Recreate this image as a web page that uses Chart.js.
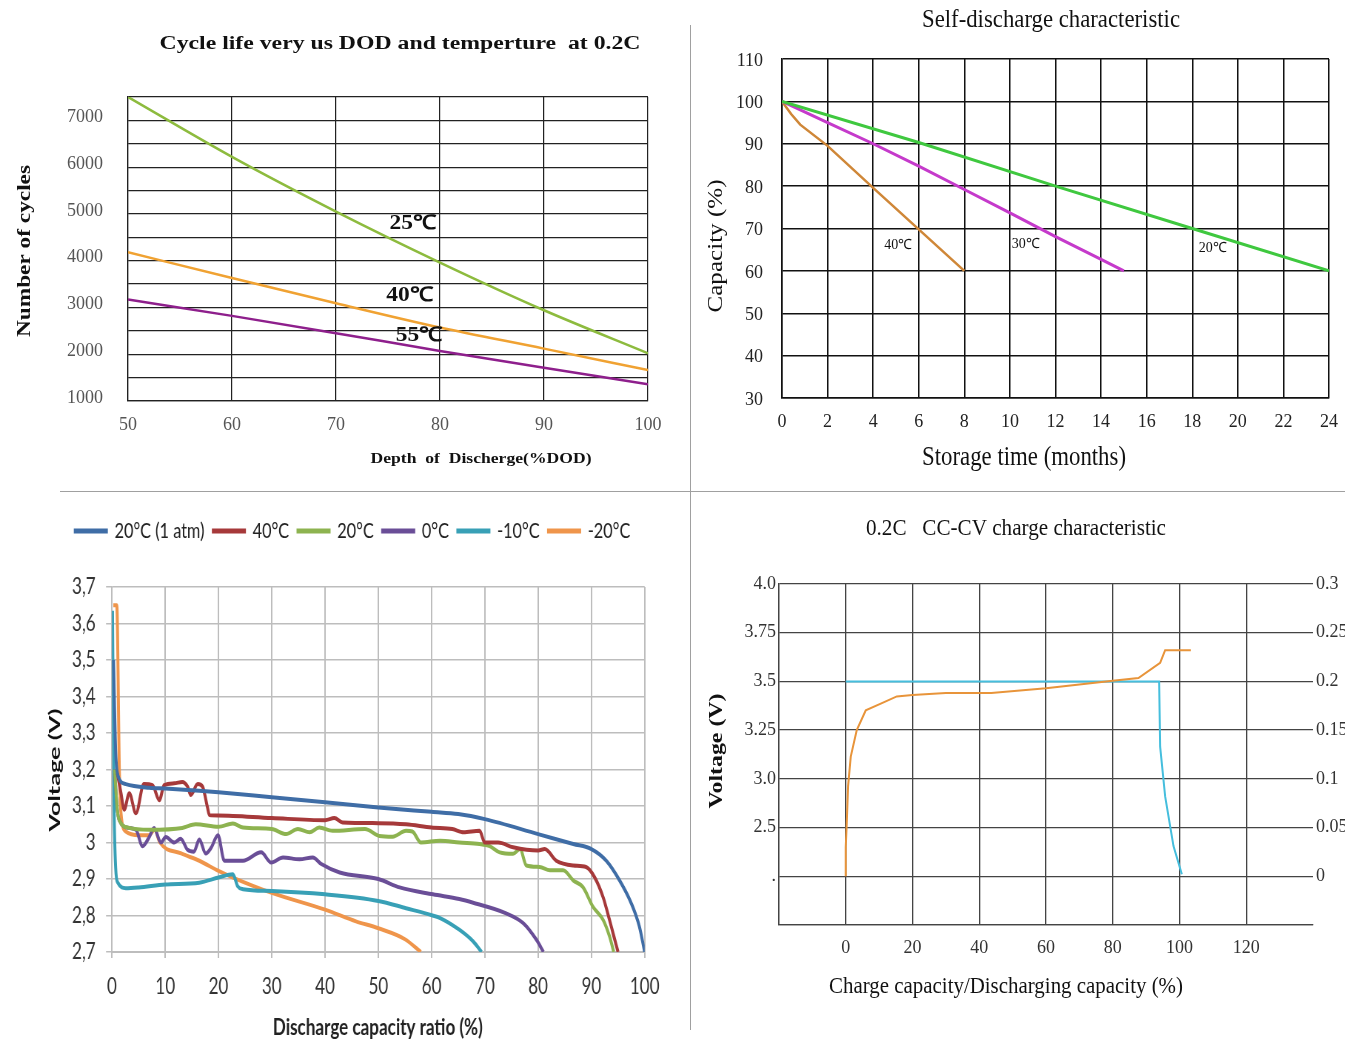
<!DOCTYPE html>
<html lang="en">
<head>
<meta charset="UTF-8">
<title>Cell characteristics</title>
<style>
  body { margin: 0; background: #fff; }
  #page { position: relative; width: 1345px; height: 1044px; overflow: hidden; }
  canvas { position: absolute; }
  .vline { position: absolute; left: 690px; top: 25px; width: 1px; height: 1005px; background: #a0a0a0; }
  .hline { position: absolute; left: 60px; top: 491px; width: 1285px; height: 1px; background: #a0a0a0; }
</style>
</head>
<body>
<div id="page">
  <canvas id="cycleChart" width="690" height="490" style="left:0;top:0"></canvas>
  <canvas id="selfChart" width="680" height="490" style="left:690px;top:0"></canvas>
  <!-- drawn 1.35x wider and squeezed back, so the legend/tick text comes out condensed -->
  <canvas id="dischargeChart" width="932" height="545" style="left:0;top:495px;width:690px;height:545px"></canvas>
  <canvas id="chargeChart" width="655" height="545" style="left:690px;top:495px"></canvas>
  <div class="vline"></div>
  <div class="hline"></div>
</div>

<script src="https://cdn.jsdelivr.net/npm/chart.js"></script>
<script>
// ---- cycle life vs DOD ----
const dodPct = [50, 60, 70, 80, 90, 100]
const cycles25 = [7500, 6220, 5050, 3960, 2940, 2020]
const cycles40 = [4180, 3630, 3090, 2570, 2120, 1660]
const cycles55 = [3170, 2820, 2450, 2070, 1710, 1360]

// ---- self discharge ----
const months20 = [0, 6, 12, 18, 24]
const capa20 = [100, 90.3, 80, 70, 60]
const months30 = [0, 2, 4, 6, 8, 10, 12, 14, 15]
const capa30 = [100, 95, 90, 84.7, 79.2, 73.7, 68.1, 62.7, 60]
const months40 = [0, 0.4, 0.8, 2, 4, 6, 8]
const capa40 = [100, 97, 94.5, 89.5, 79.6, 69.8, 60]

// ---- discharge curves ----
const legendNames = ['20°C (1 atm)', '40°C', '20°C', '0°C', '-10°C', '-20°C']
const atmX = [0.3, 0.7, 1.2, 2.6, 7, 10, 16.4, 20, 30, 40, 50, 60, 65, 70, 80, 86.6, 90, 92.8, 95.3, 97.5, 99, 100]
const atmV = [3.5, 3.25, 3.18, 3.16, 3.15, 3.148, 3.142, 3.138, 3.124, 3.11, 3.096, 3.084, 3.078, 3.064, 3.023, 2.996, 2.982, 2.95, 2.896, 2.833, 2.77, 2.70]
const t40X = [1.0, 1.7, 2.3, 3.25, 4.5, 6, 7.6, 8.9, 9.8, 11.7, 13.2, 14.2, 14.8, 16.1, 17, 17.9, 18.3, 20, 30, 40, 41.75, 43.3, 50, 55.2, 60, 63.9, 66, 69, 70, 72.5, 75.3, 80, 81.25, 83.4, 86.6, 89, 90.6, 92.2, 93.4, 94.4, 95]
const t40V = [3.19, 3.135, 3.09, 3.135, 3.08, 3.16, 3.157, 3.116, 3.157, 3.162, 3.166, 3.153, 3.13, 3.16, 3.153, 3.098, 3.075, 3.074, 3.067, 3.061, 3.067, 3.055, 3.053, 3.05, 3.041, 3.037, 3.028, 3.032, 3.0, 3.0, 2.987, 2.978, 2.982, 2.95, 2.937, 2.933, 2.905, 2.85, 2.788, 2.733, 2.70]
const t20X = [0.5, 1, 1.4, 3.25, 7, 13.2, 15.7, 20, 22.7, 24.6, 30, 32.7, 34.9, 37.1, 38.9, 41.4, 47.5, 50.2, 52.7, 55.2, 56.4, 58, 61.6, 65.2, 69, 70.9, 72.8, 75.3, 76.6, 77.8, 80.3, 82.2, 84.7, 86.6, 88.4, 90.3, 92.2, 93.4, 94.2]
const t20V = [3.2, 3.09, 3.06, 3.04, 3.035, 3.04, 3.05, 3.043, 3.052, 3.041, 3.037, 3.023, 3.037, 3.028, 3.041, 3.032, 3.037, 3.018, 3.016, 3.032, 3.03, 3.0, 3.005, 3.0, 2.996, 2.99, 2.973, 2.969, 2.982, 2.937, 2.933, 2.924, 2.924, 2.896, 2.878, 2.824, 2.788, 2.743, 2.70]
const t0X = [0.5, 1, 1.4, 3.25, 4.5, 5.75, 7, 7.9, 9.2, 10.1, 11.7, 12.9, 14.2, 15.4, 16.4, 17.6, 18.6, 19.9, 21.1, 24.6, 28, 29.9, 32.1, 35.2, 37.7, 39.3, 42.75, 50, 54, 60.25, 65.2, 67.8, 74, 77.2, 79.7, 81]
const t0V = [3.2, 3.09, 3.06, 3.04, 3.035, 2.99, 3.015, 3.04, 3.0, 3.015, 3.0, 3.01, 2.98, 2.975, 3.008, 2.97, 2.985, 3.02, 2.95, 2.95, 2.973, 2.945, 2.959, 2.954, 2.959, 2.941, 2.918, 2.9, 2.877, 2.858, 2.845, 2.835, 2.806, 2.779, 2.733, 2.70]
const tm10X = [0.1, 0.4, 0.7, 1.1, 2.6, 5, 10, 16.4, 20, 22.7, 23.6, 24.6, 30, 40, 50, 55.2, 60.2, 61.6, 65.3, 67.8, 69.4]
const tm10V = [3.635, 3.1, 2.93, 2.89, 2.875, 2.877, 2.885, 2.89, 2.904, 2.913, 2.88, 2.872, 2.867, 2.858, 2.84, 2.82, 2.80, 2.793, 2.76, 2.729, 2.70]
const tm20X = [0.25, 0.9, 1.4, 1.7, 2.6, 5.1, 7, 8, 9, 13, 16.4, 20, 22.7, 30, 40, 45.8, 50, 55, 58]
const tm20V = [3.65, 3.65, 3.19, 3.08, 3.03, 3.02, 3.02, 3.035, 3.0, 2.97, 2.95, 2.922, 2.904, 2.862, 2.816, 2.784, 2.765, 2.735, 2.70]

// ---- CC-CV charge ----
const chgCap = [0, 0, 0.3, 0.7, 1.5, 3.3, 6, 10.5, 15.3, 20, 30, 43.6, 60, 80, 87.7, 94.2, 95.7, 103.4]
const chgVolt = [2.5, 2.65, 2.772, 2.963, 3.114, 3.25, 3.352, 3.386, 3.423, 3.43, 3.44, 3.44, 3.465, 3.504, 3.517, 3.595, 3.66, 3.66]
const curCap = [0, 93.9, 94.2, 95.7, 98.2, 100.7]
const curAmp = [0.2, 0.2, 0.133, 0.082, 0.031, 0.002]
const voltTickText = ['', '.', '2.5', '3.0', '3.25', '3.5', '3.75', '4.0']   // bottom to top

const SERIF = '"Liberation Serif", "Times New Roman", serif'
const SANS = 'Lato, "Liberation Sans", sans-serif'
const K3 = 1.35   // horizontal squeeze of the discharge canvas

const pts = (xs, ys) => xs.map((x, i) => ({ x: x, y: ys[i] }))

// draws free text; items use page coords, or data coords (xv/yv) via the chart scales
const freeText = (items, kx = 1) => ({
    id: 'freeText',
    afterDraw(chart) {
        const ctx = chart.ctx
        const ox = chart.canvas.offsetLeft, oy = chart.canvas.offsetTop
        items.forEach(t => {
            let x, y
            if (t.xv !== undefined) {
                x = chart.scales[t.xAxis || 'x'].getPixelForValue(t.xv)
                y = chart.scales[t.yAxis || 'y'].getPixelForValue(t.yv)
            } else {
                x = (t.x - ox) * kx
                y = t.y - oy
            }
            ctx.save()
            ctx.translate(x, y)
            if (t.vertical) ctx.rotate(-Math.PI / 2)
            ctx.font = t.font
            ctx.fillStyle = t.color || '#111'
            ctx.textAlign = 'center'
            ctx.textBaseline = 'middle'
            if (t.width) {
                const w = t.vertical ? t.width : t.width * kx
                ctx.scale(w / ctx.measureText(t.text).width, 1)
            }
            ctx.fillText(t.text, 0, 0)
            ctx.restore()
        })
    }
})

Chart.defaults.animation = false
Chart.defaults.plugins.tooltip.enabled = false
Chart.defaults.elements.point.radius = 0

// 1. cycle life
new Chart(document.getElementById('cycleChart'), {
    type: 'line',
    data: {
        datasets: [
            { label: '25℃', data: pts(dodPct, cycles25), borderColor: '#8DBB3E', borderWidth: 2.5, cubicInterpolationMode: 'monotone' },
            { label: '40℃', data: pts(dodPct, cycles40), borderColor: '#F0A232', borderWidth: 2.5, cubicInterpolationMode: 'monotone' },
            { label: '55℃', data: pts(dodPct, cycles55), borderColor: '#8E1F8C', borderWidth: 2.5, cubicInterpolationMode: 'monotone' }
        ]
    },
    options: {
        responsive: false,
        layout: { autoPadding: false, padding: { left: 0, top: 97, right: 42, bottom: 49 } },
        plugins: { legend: { display: false } },
        scales: {
            x: {
                type: 'linear', min: 50, max: 100,
                afterFit: s => { s.height = 40 },
                ticks: { stepSize: 10, padding: 13, color: '#555', font: { family: SERIF, size: 18 } },
                grid: { color: '#222', lineWidth: 1.2, drawTicks: false },
                border: { color: '#222', width: 1.2 }
            },
            y: {
                min: 1000, max: 7500,
                afterFit: s => { s.width = 128 },
                ticks: { stepSize: 500, autoSkip: false, padding: 25, labelOffset: -3, color: '#555',
                    font: { family: SERIF, size: 18 },
                    callback: v => (v % 1000 === 0 ? v : '') },
                grid: { color: '#222', lineWidth: 1.2, drawTicks: false },
                border: { color: '#222', width: 1.2 }
            }
        }
    },
    plugins: [freeText([
        { text: 'Cycle life very us DOD and temperture  at 0.2C', x: 400, y: 44, font: 'bold 18px ' + SERIF, width: 481 },
        { text: 'Number of cycles', x: 25, y: 251, vertical: true, font: 'bold 18px ' + SERIF, width: 172 },
        { text: 'Depth  of  Discherge(%DOD)', x: 481, y: 459, font: 'bold 14px ' + SERIF, width: 221 },
        { text: '25℃', xv: 77.4, yv: 4780, font: 'bold 20px ' + SERIF, width: 47 },
        { text: '40℃', xv: 77.1, yv: 3250, font: 'bold 20px ' + SERIF, width: 47 },
        { text: '55℃', xv: 78, yv: 2390, font: 'bold 20px ' + SERIF, width: 47 }
    ])]
})

// 2. self discharge
new Chart(document.getElementById('selfChart'), {
    type: 'line',
    data: {
        datasets: [
            { label: '20℃', data: pts(months20, capa20), borderColor: '#3FC83F', borderWidth: 3 },
            { label: '30℃', data: pts(months30, capa30), borderColor: '#C53ACB', borderWidth: 3 },
            { label: '40℃', data: pts(months40, capa40), borderColor: '#CF8738', borderWidth: 2.5 }
        ]
    },
    options: {
        responsive: false,
        layout: { autoPadding: false, padding: { left: 0, top: 59, right: 41, bottom: 52 } },
        plugins: { legend: { display: false } },
        scales: {
            x: {
                type: 'linear', min: 0, max: 24,
                afterFit: s => { s.height = 40 },
                ticks: { stepSize: 2, padding: 13, color: '#222', font: { family: SERIF, size: 18 } },
                grid: { color: '#111', lineWidth: 1.5, drawTicks: false },
                border: { color: '#111', width: 1.5 }
            },
            y: {
                min: 30, max: 110,
                afterFit: s => { s.width = 92 },
                ticks: { stepSize: 10, padding: 19, labelOffset: 2, color: '#222', font: { family: SERIF, size: 18 } },
                grid: { color: '#111', lineWidth: 1.5, drawTicks: false },
                border: { color: '#111', width: 1.5 }
            }
        }
    },
    plugins: [freeText([
        { text: 'Self-discharge characteristic', x: 1051, y: 20, font: '25px ' + SERIF, width: 258 },
        { text: 'Capacity (%)', x: 717, y: 246, vertical: true, font: '20px ' + SERIF, width: 133 },
        { text: 'Storage time (months)', x: 1024, y: 458, font: '27px ' + SERIF, width: 204 },
        { text: '40℃', xv: 5.1, yv: 66, font: '14px ' + SERIF, width: 28 },
        { text: '30℃', xv: 10.7, yv: 66.3, font: '14px ' + SERIF, width: 28 },
        { text: '20℃', xv: 18.9, yv: 65.3, font: '14px ' + SERIF, width: 28 }
    ])]
})

// 3. discharge at temperatures (horizontal sizes are page px times K3)
const dischargeColors = ['#3F6DA6', '#A6393A', '#8DB350', '#6A4E97', '#38A0B6', '#EF954B']
const dischargeSeries = [pts(atmX, atmV), pts(t40X, t40V), pts(t20X, t20V), pts(t0X, t0V), pts(tm10X, tm10V), pts(tm20X, tm20V)]
const c3W = 932
const c3Left = 112 * K3, c3Right = 645 * K3
const c3PadR = c3W - c3Right
const c3PadL = 2 * 353 * K3 - c3Right      // centres the legend row near x=353
new Chart(document.getElementById('dischargeChart'), {
    type: 'line',
    data: {
        datasets: dischargeSeries.map((d, i) => ({
            label: legendNames[i], data: d,
            borderColor: dischargeColors[i], backgroundColor: dischargeColors[i],
            borderWidth: 4, cubicInterpolationMode: 'monotone'
        }))
    },
    options: {
        responsive: false,
        layout: { autoPadding: false, padding: { left: c3PadL, top: 13, right: c3PadR, bottom: 28 } },
        plugins: {
            legend: {
                position: 'top', align: 'center',
                labels: { boxWidth: 42, boxHeight: 1, padding: 12, color: '#222', font: { family: SANS, size: 22 } }
            },
            // blank spacer between the legend and the plot
            title: { display: true, text: ' ', weight: 500, font: { size: 1, lineHeight: 1 }, padding: { top: 34, bottom: 0 } }
        },
        scales: {
            x: {
                type: 'linear', min: 0, max: 100,
                afterFit: s => { s.height = 60 },
                ticks: { stepSize: 10, padding: 15, color: '#333', font: { family: SANS, size: 23 } },
                grid: { color: '#BDBDBD', lineWidth: 2, tickLength: 6 },
                border: { color: '#BDBDBD', width: 2 }
            },
            y: {
                min: 2.7, max: 3.7,
                afterFit: s => { s.width = c3Left - c3PadL },
                ticks: { stepSize: 0.1, padding: 14, color: '#333', font: { family: SANS, size: 23 },
                    callback: v => (Math.abs(v - 3) < 1e-9 ? '3' : v.toFixed(1).replace('.', ',')) },
                grid: { color: '#BDBDBD', lineWidth: 1.5, tickLength: 8 },
                border: { color: '#BDBDBD', width: 1.5 }
            }
        }
    },
    plugins: [freeText([
        { text: 'Voltage (V)', x: 55, y: 770, vertical: true, font: 'bold 20px ' + SANS, width: 123 },
        { text: 'Discharge capacity ratio (%)', x: 378, y: 1028, font: 'bold 23px ' + SANS, width: 210, color: '#222' }
    ], K3)]
})

// 4. CC-CV charge
new Chart(document.getElementById('chargeChart'), {
    type: 'line',
    data: {
        datasets: [
            { label: 'Voltage', data: pts(chgCap, chgVolt), yAxisID: 'y', borderColor: '#E8943A', borderWidth: 2 },
            { label: 'Current', data: pts(curCap, curAmp), yAxisID: 'y2', borderColor: '#45BEDD', borderWidth: 2 }
        ]
    },
    options: {
        responsive: false,
        layout: { autoPadding: false, padding: { left: 0, top: 89, right: 0, bottom: 75 } },
        plugins: { legend: { display: false } },
        scales: {
            x: {
                type: 'linear', min: -20, max: 140,
                afterFit: s => { s.height = 40 },
                ticks: { stepSize: 20, padding: 12, color: '#333', font: { family: SERIF, size: 18 },
                    callback: v => (v < 0 || v > 120 ? '' : v) },
                grid: { drawTicks: false, lineWidth: 1.3,
                    color: c => (c.tick && c.tick.value > 120 ? 'rgba(0,0,0,0)' : '#444') },
                border: { color: '#444', width: 1.3 }
            },
            y: {
                position: 'left', min: 2.25, max: 4.0,
                afterFit: s => { s.width = 89 },
                ticks: { stepSize: 0.25, padding: 3, color: '#333', font: { family: SERIF, size: 18 },
                    callback: (v, i) => voltTickText[i] },
                grid: { color: '#444', lineWidth: 1.3, drawTicks: false },
                border: { color: '#444', width: 1.3 }
            },
            y2: {
                position: 'right', min: -0.05, max: 0.3,
                afterFit: s => { s.width = 32 },
                ticks: { stepSize: 0.05, padding: 3, color: '#333', font: { family: SERIF, size: 18 },
                    callback: v => (v < -0.001 ? '' : String(Number(v.toFixed(2)))) },
                grid: { drawOnChartArea: false, drawTicks: false },
                border: { display: false }
            }
        }
    },
    plugins: [freeText([
        { text: '0.2C   CC-CV charge characteristic', x: 1016, y: 529, font: '23px ' + SERIF, width: 300 },
        { text: 'Voltage (V)', x: 717, y: 751, vertical: true, font: 'bold 19px ' + SERIF, width: 115 },
        { text: 'Charge capacity/Discharging capacity (%)', x: 1006, y: 987, font: '23px ' + SERIF, width: 354 }
    ])]
})
</script>
</body>
</html>
